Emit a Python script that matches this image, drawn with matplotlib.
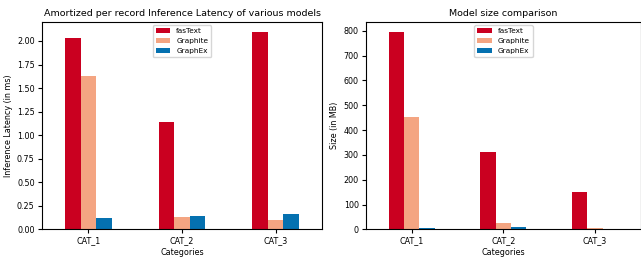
import numpy as np
import matplotlib.pyplot as plt

# DATA------------------------------------------------------------------------------------------------------------------
categories = ["CAT_1", "CAT_2", "CAT_3"]
models = ["fasText", "Graphite", "GraphEx"]
colors = ["#ca0020", "#f4a582", "#0571b0"]

latency_fastext = [2.03, 1.14, 2.10]
latency_graphite = [1.63, 0.13, 0.10]
latency_graphex = [0.12, 0.14, 0.16]

size_fastext = [797, 312, 150]
size_graphite = [452, 25, 5]
size_graphex = [5, 9, 1]

plt.rcParams['font.size'] = 5.8


def drawBars(ax, series, title, ylabel):
    x = np.arange(len(categories))
    w = 0.5 / len(series)
    for i, vals in enumerate(series):
        ax.bar(x + (i - 1) * w, vals, width=w, color=colors[i], label=models[i])
    ax.set_xticks(x)
    ax.set_xticklabels(categories)
    ax.set_xlim(-0.5, 2.5)
    ax.set_title(title, fontsize=6.8, pad=4)
    ax.set_xlabel("Categories", labelpad=2)
    ax.set_ylabel(ylabel, labelpad=3)
    ax.tick_params(length=3, pad=2)
    ax.legend(loc="upper center", fontsize=5.3)


fig = plt.figure(figsize=(6.41, 2.58), dpi=100)
ax1 = fig.add_axes([0.065, 0.111, 0.438, 0.805])
ax2 = fig.add_axes([0.5705, 0.111, 0.4295, 0.805])

drawBars(ax1, [latency_fastext, latency_graphite, latency_graphex],
         "Amortized per record Inference Latency of various models", "Inference Latency (in ms)")
drawBars(ax2, [size_fastext, size_graphite, size_graphex],
         "Model size comparison", "Size (in MB)")

plt.savefig("out.png", dpi=100)
